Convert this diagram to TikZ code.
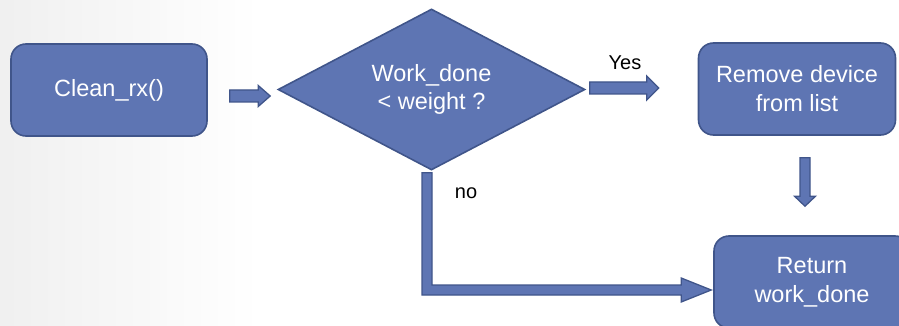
\documentclass[tikz,border=0pt]{standalone}
\usepackage{fontspec}
\setmainfont{Liberation Sans}
\usetikzlibrary{shapes.geometric,calc}

\definecolor{boxfill}{HTML}{5E75B3}
\definecolor{boxline}{HTML}{40558A}

\tikzset{
  stepbox/.style={draw=boxline, line width=1.6pt, fill=boxfill, rounded corners=15pt,
    text=white, font=\fontsize{23.5}{29}\selectfont, align=center, inner sep=0pt},
  decision/.style={diamond, aspect=2, draw=boxline, line width=1.6pt, fill=boxfill,
    text=white, font=\fontsize{23.5}{29}\selectfont, align=center, inner sep=0pt,
    minimum width=307pt, minimum height=161pt},
  blk/.style={draw=boxline, line width=1.3pt, fill=boxfill, line join=miter},
  lbl/.style={text=black, font=\fontsize{20}{24}\selectfont, inner sep=0pt}
}

% horizontal block arrow: start, end, shaft half width, head half width, head length
\newcommand{\hblock}[5]{%
  \draw[blk] let \p1=(#1), \p2=(#2) in
    (\x1,\y1+#3) -- (\x2-#5,\y1+#3) -- (\x2-#5,\y1+#4) -- (\x2,\y1)
    -- (\x2-#5,\y1-#4) -- (\x2-#5,\y1-#3) -- (\x1,\y1-#3) -- cycle;}
% downward block arrow: start, end, shaft half width, head half width, head length
\newcommand{\vblock}[5]{%
  \draw[blk] let \p1=(#1), \p2=(#2) in
    (\x1-#3,\y1) -- (\x1+#3,\y1) -- (\x1+#3,\y2+#5) -- (\x1+#4,\y2+#5) -- (\x1,\y2)
    -- (\x1-#4,\y2+#5) -- (\x1-#3,\y2+#5) -- cycle;}

\begin{document}
\begin{tikzpicture}[x=1pt,y=-1pt]
  \useasboundingbox (0,0) rectangle (899,326);
  \clip (0,0) rectangle (899,326);
  % soft slide background
  \shade[left color=black!6, right color=white] (0,0) rectangle (260,326);

  % steps
  \node[stepbox, minimum width=196pt, minimum height=92pt] (clean) at (109,90) {Clean\_rx()};
  \node[decision] (dia) at (431.5,89.5) {Work\_done\\[-1pt]< weight ?};
  \node[stepbox, minimum width=197pt, minimum height=92pt] (rem) at (797,89) {Remove device\\from list};
  \node[stepbox, minimum width=196pt, minimum height=92pt] (ret) at (812,282) {Return\\work\_done};

  % connectors
  \coordinate (a1s) at ([xshift=22pt,yshift=-6pt]clean.east);
  \coordinate (a1e) at ([xshift=-7pt,yshift=-6.5pt]dia.west);
  \hblock{a1s}{a1e}{6pt}{10.5pt}{12pt}

  \coordinate (a2s) at ([xshift=4pt,yshift=1.5pt]dia.east);
  \coordinate (a2e) at ([xshift=-39pt,yshift=1pt]rem.west);
  \hblock{a2s}{a2e}{6pt}{12pt}{12pt}

  \coordinate (a3s) at ([xshift=8pt,yshift=-22pt]rem.south);
  \coordinate (a3e) at ([xshift=-7pt,yshift=29pt]ret.north);
  \vblock{a3s}{a3e}{5pt}{10.5pt}{10pt}

  % "no" branch: down from the decision, then right into the return step
  \coordinate (a4s) at ([xshift=-4.5pt,yshift=-2pt]dia.south);
  \coordinate (a4e) at ([xshift=-2pt,yshift=-8pt]ret.west);
  \draw[blk] let \p1=(a4s), \p2=(a4e) in
    (\x1-5pt,\y1) -- (\x1+5pt,\y1) -- (\x1+5pt,\y2+5pt) -- (\x2-30pt,\y2+5pt)
    -- (\x2-30pt,\y2+12pt) -- (\x2,\y2) -- (\x2-30pt,\y2-12pt) -- (\x2-30pt,\y2-5pt)
    -- (\x1-5pt,\y2-5pt) -- cycle;

  % branch labels
  \node[lbl] (yes) at (625,63) {Yes};
  \node[lbl] (no) at (466,193) {no};
\end{tikzpicture}
\end{document}
